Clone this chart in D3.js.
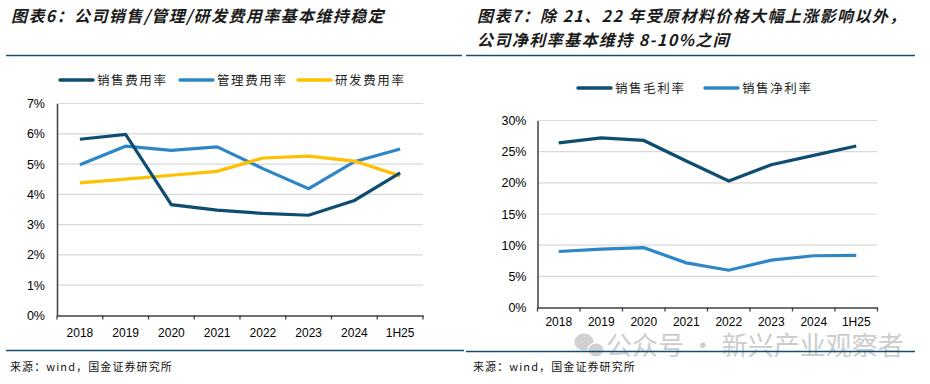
<!DOCTYPE html>
<html><head><meta charset="utf-8">
<script src="https://cdn.jsdelivr.net/npm/d3@7/dist/d3.min.js"></script>
<style>
html,body{margin:0;padding:0;background:#fff;}
svg{display:block;}
.tick text{font-family:"Liberation Sans",Arial,sans-serif;font-size:12px;fill:#000;}
</style></head>
<body>
<svg id="c" width="930" height="384"></svg>
<script>
const years = ["2018","2019","2020","2021","2022","2023","2024","1H25"];
// Left chart: expense ratios (%)
const salesExp = [5.82, 5.98, 3.66, 3.48, 3.37, 3.31, 3.80, 4.71];
const adminExp = [4.98, 5.59, 5.45, 5.57, 4.85, 4.19, 5.08, 5.50];
const rdExp    = [4.38, 4.50, 4.63, 4.76, 5.20, 5.26, 5.10, 4.61];
const leftTicks = [0,1,2,3,4,5,6,7];
// Right chart: margins (%)
const grossMargin = [26.4, 27.2, 26.8, 23.5, 20.3, 22.9, 24.4, 25.9];
const netMargin   = [8.98, 9.35, 9.60, 7.16, 5.98, 7.60, 8.30, 8.35];
const rightTicks = [0,5,10,15,20,25,30];

const C_DARK = "#0e4d70", C_MID = "#2f86c6", C_YEL = "#ffc000";
const svg = d3.select("#c");
const cjk = '"Noto Sans CJK SC","Noto Sans",sans-serif';

function title(x,y,t){
  svg.append("text").attr("x",x).attr("y",y).text(t)
    .attr("font-family",cjk).attr("font-size",16).attr("font-weight","bold").attr("font-style","italic")
    .attr("letter-spacing","1.4px").attr("fill","#1a1a1a");
}
title(11,22,"图表6：公司销售/管理/研发费用率基本维持稳定");
title(477,22,"图表7：除 21、22 年受原材料价格大幅上涨影响以外，");
title(477,46,"公司净利率基本维持 8-10%之间");
// separators
svg.append("line").attr("x1",6).attr("x2",462).attr("y1",55.5).attr("y2",55.5).attr("stroke","#164e72").attr("stroke-width",1.5);
svg.append("line").attr("x1",466).attr("x2",915).attr("y1",55.5).attr("y2",55.5).attr("stroke","#164e72").attr("stroke-width",1.5);

// watermark
const wm = svg.append("g").attr("fill","#d0d0d0");
wm.append("ellipse").attr("cx",584).attr("cy",342).attr("rx",9.5).attr("ry",8.5);
wm.append("ellipse").attr("cx",596).attr("cy",350).attr("rx",8).attr("ry",7).attr("stroke","#fff").attr("stroke-width",1.2);
svg.append("text").attr("x",606).attr("y",355).text("公众号 · 新兴产业观察者")
  .attr("font-family",cjk).attr("font-size",26).attr("fill","#cccccc");

// footer
svg.append("line").attr("x1",6).attr("x2",464).attr("y1",350.5).attr("y2",350.5).attr("stroke","#164e72").attr("stroke-width",1.5);
svg.append("line").attr("x1",466).attr("x2",915).attr("y1",351.5).attr("y2",351.5).attr("stroke","#164e72").attr("stroke-width",1.5);
[10,473].forEach(x=>{
  svg.append("text").attr("x",x).attr("y",371).text("来源：wind，国金证券研究所")
    .attr("font-family",cjk).attr("font-size",11).attr("letter-spacing","1.1px").attr("fill","#111");
});

function legend(items, y){
  items.forEach(it=>{
    svg.append("line").attr("x1",it.x).attr("x2",it.x+33).attr("y1",y).attr("y2",y)
      .attr("stroke",it.c).attr("stroke-width",3.5).attr("stroke-linecap","round");
    svg.append("text").attr("x",it.x+37).attr("y",y+4.5).text(it.t)
      .attr("font-family",cjk).attr("font-size",12.5).attr("letter-spacing","1.6px").attr("fill","#222");
  });
}

function chart(opt){
  const x = d3.scaleBand().domain(years).range([opt.x0,opt.x1]);
  const y = d3.scaleLinear().domain([0,opt.max]).range([opt.y0,opt.y1]);
  const g = svg.append("g");
  // grid
  g.selectAll(".grid").data(opt.ticks.filter(t=>t>0)).join("line")
    .attr("x1",opt.x0).attr("x2",opt.x1).attr("y1",d=>y(d)).attr("y2",d=>y(d))
    .attr("stroke","#d9d9d9").attr("stroke-width",1.2);
  // y axis
  const ya = g.append("g").attr("transform",`translate(${opt.x0},0)`)
    .call(d3.axisLeft(y).tickValues(opt.ticks).tickSize(0).tickPadding(opt.pad).tickFormat(d=>d+"%"));
  ya.select(".domain").attr("stroke","#404040").attr("stroke-width",1.5);
  ya.selectAll(".tick text").style("font-size","12.5px");
  // x axis
  const xa = g.append("g").attr("transform",`translate(0,${opt.y0})`)
    .call(d3.axisBottom(x).tickSize(0).tickPadding(opt.xpad));
  xa.select(".domain").attr("stroke","#404040").attr("stroke-width",1.5);
  const bounds = years.map(d=>x(d)).concat([opt.x1]);
  g.selectAll(".xt").data(bounds).join("line")
    .attr("x1",d=>d).attr("x2",d=>d).attr("y1",opt.y0).attr("y2",opt.y0+4)
    .attr("stroke","#404040").attr("stroke-width",1.3);
  const line = d3.line().x((d,i)=>x(years[i])+x.bandwidth()/2).y(d=>y(d));
  opt.series.forEach(s=>{
    g.append("path").datum(s.v).attr("d",line).attr("fill","none")
      .attr("stroke",s.c).attr("stroke-width",3.2).attr("stroke-linejoin","miter");
  });
}

legend([{x:60,t:"销售费用率",c:C_DARK},{x:180,t:"管理费用率",c:C_MID},{x:298,t:"研发费用率",c:C_YEL}],80);
chart({x0:57,x1:423,y0:315.5,y1:103.5,max:7,ticks:leftTicks,pad:12,xpad:13,
  series:[{v:adminExp,c:C_MID},{v:rdExp,c:C_YEL},{v:salesExp,c:C_DARK}]});

legend([{x:578,t:"销售毛利率",c:C_DARK},{x:705,t:"销售净利率",c:C_MID}],88);
chart({x0:537.5,x1:877.5,y0:307.5,y1:120.5,max:30,ticks:rightTicks,pad:11,xpad:10,
  series:[{v:grossMargin,c:C_DARK},{v:netMargin,c:C_MID}]});
</script>
</body></html>
